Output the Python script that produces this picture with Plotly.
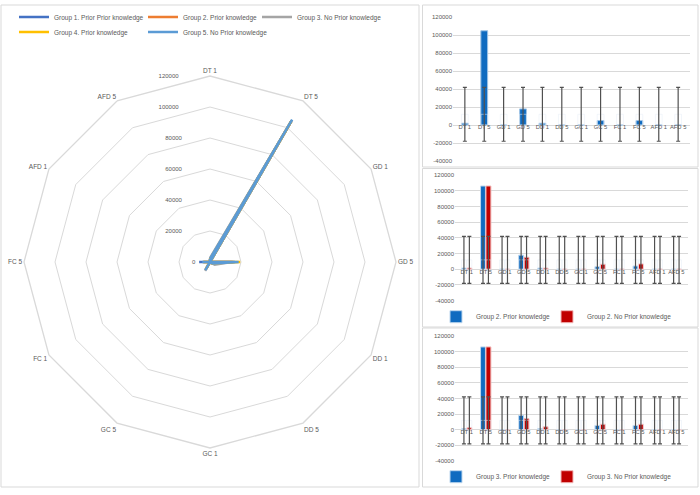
import plotly.graph_objects as go

categories = ["DT 1", "DT 5", "GD 1", "GD 5", "DD 1", "DD 5", "GC 1", "GC 5", "FC 1", "FC 5", "AFD 1", "AFD 5"]

# Radar series
radar_names = ["Group 1. Prior Prior knowledge", "Group 2. Prior knowledge", "Group 3. No Prior knowledge",
               "Group 4. Prior knowledge", "Group 5. No Prior knowledge"]
radar_group1 = [1500, 105000, 0, 16000, 1500, 0, 0, 4000, 0, 7000, 0, 0]
radar_group2 = [1500, 105000, 0, 15000, 1500, 0, 0, 5500, 0, 4000, 0, 0]
radar_group3 = [2500, 105000, 0, 14000, 3500, 0, 0, 6500, 0, 4500, 0, 0]
radar_group4 = [1500, 105000, 0, 19500, 1500, 0, 0, 5000, 0, 4500, 0, 0]
radar_group5 = [2000, 106000, 0, 18500, 2000, 0, 0, 6000, 0, 5000, 0, 0]
radar_colors = ["#4472C4", "#ED7D31", "#A5A5A5", "#FFC000", "#5B9BD5"]

# Bar chart 1 (top right)
bar1_values = [2000, 105000, 0, 18000, 2000, 0, 0, 5000, 0, 5000, 0, 0]
# Bar chart 2 (middle right)
bar2_prior = [1500, 106000, 0, 18000, 1500, 0, 0, 3300, 0, 4200, 0, 0]
bar2_noprior = [1500, 106000, 0, 15300, 1500, 0, 0, 6400, 0, 6800, 0, 0]
# Bar chart 3 (bottom right)
bar3_prior = [1500, 106000, 0, 18300, 1500, 0, 0, 5500, 0, 5500, 0, 0]
bar3_noprior = [2500, 106000, 0, 14100, 3800, 0, 0, 7000, 0, 7000, 0, 0]

# Error bar extents (same for all bars)
err_high = [42000] * 12
err_low = [-18000] * 12

radial_ticks = [0, 20000, 40000, 60000, 80000, 100000, 120000]
bar_ticks = [-40000, -20000, 0, 20000, 40000, 60000, 80000, 100000, 120000]
bar_ticktext = ["-40000", "-20000", "0", "20000", "40000", "60000", "80000", "100000", "120000"]

FONT = "Liberation Sans, Arial, sans-serif"
TXT = "#595959"
GRID = "#D9D9D9"

W, H = 700, 495

fig = go.Figure()

# legend placement (pixels: left x of legend box, row centre y)
radar_legend_ids = ["legend", "legend4", "legend5", "legend6", "legend7"]
radar_legend_pos = [(14, 17), (143, 17), (257, 17), (14, 32), (143, 32)]

# ---- Radar ----
radar_series = [radar_group1, radar_group2, radar_group3, radar_group4, radar_group5]
for name, vals, col, lid in zip(radar_names, radar_series, radar_colors, radar_legend_ids):
    fig.add_trace(go.Scatterpolar(
        r=vals + vals[:1], theta=categories + categories[:1], mode="lines",
        name=name, line=dict(color=col, width=2.6), legend=lid, subplot="polar"))

# ---- Bars ----
err_mid = [(h + l) / 2 for h, l in zip(err_high, err_low)]
err_half = [(h - l) / 2 for h, l in zip(err_high, err_low)]


def add_bar_set(xa, ya, values, color, line_col, name, group, legend, showlegend, width=None):
    fig.add_trace(go.Bar(x=categories, y=values, name=name, marker=dict(color=color, line=dict(color=line_col, width=1)),
                         offsetgroup=group, xaxis=xa, yaxis=ya, legend=legend, showlegend=showlegend, width=width))
    fig.add_trace(go.Bar(x=categories, y=err_mid, marker=dict(color="rgba(0,0,0,0)"),
                         error_y=dict(type="data", array=err_half, symmetric=True, color="#505050", thickness=1.2, width=2),
                         offsetgroup=group, xaxis=xa, yaxis=ya, showlegend=False, hoverinfo="skip", width=width))


add_bar_set("x", "y", bar1_values, "#0F6BC0", "#9DC3E6", "Group 1", "a", "legend2", False, width=0.35)
add_bar_set("x2", "y2", bar2_prior, "#0F6BC0", "#BDD7EE", "Group 2. Prior knowledge", "b", "legend2", True)
add_bar_set("x2", "y2", bar2_noprior, "#C00000", "#F2B8B8", "Group 2. No Prior knowledge", "c", "legend8", True)
add_bar_set("x3", "y3", bar3_prior, "#0F6BC0", "#BDD7EE", "Group 3. Prior knowledge", "b", "legend3", True)
add_bar_set("x3", "y3", bar3_noprior, "#C00000", "#F2B8B8", "Group 3. No Prior knowledge", "c", "legend9", True)

# category labels next to the zero line
for xa, ya in [("x", "y"), ("x2", "y2"), ("x3", "y3")]:
    fig.add_trace(go.Scatter(x=categories, y=[0] * len(categories), mode="text", text=categories,
                             textposition="bottom center", textfont=dict(size=5.8, color=TXT, family=FONT),
                             xaxis=xa, yaxis=ya, showlegend=False, hoverinfo="skip"))


def px_dom_x(a, b):
    return [a / W, b / W]


def px_dom_y(top, bottom):
    return [(H - bottom) / H, (H - top) / H]


yax_common = dict(range=[-40000, 120000], tickvals=bar_ticks, ticktext=bar_ticktext, showgrid=True,
                  gridcolor=GRID, gridwidth=1.3, zeroline=False, showline=False, ticks="",
                  tickfont=dict(size=6, color=TXT, family=FONT), fixedrange=True)
xax_common = dict(showticklabels=False, showgrid=False, zeroline=False, showline=False, ticks="",
                  type="category")

# polar domain (pixels)
pcx, pcy, prad = 210, 262, 186

leg_font = dict(size=6.5, color=TXT, family=FONT)
NB = "\u00a0"
radial_text = [str(v) + NB * (2 * len(str(v)) + 6) for v in radial_ticks]


def leg(xpx, ypx):
    return dict(orientation="h", x=xpx / W, y=(H - ypx) / H, xanchor="left", yanchor="middle",
                itemwidth=30, bgcolor="rgba(0,0,0,0)", font=leg_font)


layout_legends = {}
for lid, (lx, ly) in zip(radar_legend_ids, radar_legend_pos):
    layout_legends[lid] = leg(lx, ly)
layout_legends["legend2"] = leg(436, 316.7)
layout_legends["legend8"] = leg(547, 316.7)
layout_legends["legend3"] = leg(436, 476.7)
layout_legends["legend9"] = leg(547, 476.7)

fig.update_layout(
    width=W, height=H, margin=dict(l=0, r=0, t=0, b=0, autoexpand=False),
    paper_bgcolor="white", plot_bgcolor="white",
    font=dict(family=FONT, size=6.5, color=TXT),
    barmode="group", bargap=0.43, bargroupgap=0.1,
    polar=dict(
        domain=dict(x=px_dom_x(pcx - prad, pcx + prad), y=px_dom_y(pcy - prad, pcy + prad)),
        bgcolor="white", gridshape="linear",
        radialaxis=dict(range=[0, 120000], tickvals=radial_ticks, ticktext=radial_text,
                        angle=90, tickangle=90, side="counterclockwise", showline=False, ticks="",
                        gridcolor=GRID, gridwidth=1.3, tickfont=dict(size=6, color=TXT, family=FONT)),
        angularaxis=dict(direction="clockwise", rotation=90, showgrid=False, showline=True,
                         linecolor=GRID, linewidth=1.3, ticks="",
                         tickfont=dict(size=6.5, color=TXT, family=FONT)),
    ),
    xaxis=dict(domain=px_dom_x(453, 690), anchor="y", **xax_common),
    yaxis=dict(domain=px_dom_y(17.3, 161), anchor="x", **yax_common),
    xaxis2=dict(domain=px_dom_x(455, 688), anchor="y2", **xax_common),
    yaxis2=dict(domain=px_dom_y(175, 300.7), anchor="x2", **yax_common),
    xaxis3=dict(domain=px_dom_x(455, 688), anchor="y3", **xax_common),
    yaxis3=dict(domain=px_dom_y(336, 461), anchor="x3", **yax_common),
    shapes=[
        dict(type="rect", xref="paper", yref="paper", x0=1 / W, x1=419 / W, y0=(H - 487) / H, y1=(H - 5) / H,
             line=dict(color=GRID, width=1)),
        dict(type="rect", xref="paper", yref="paper", x0=422.5 / W, x1=698 / W, y0=(H - 167) / H, y1=(H - 5) / H,
             line=dict(color=GRID, width=1)),
        dict(type="rect", xref="paper", yref="paper", x0=422.5 / W, x1=698 / W, y0=(H - 327) / H, y1=(H - 168.5) / H,
             line=dict(color=GRID, width=1)),
        dict(type="rect", xref="paper", yref="paper", x0=422.5 / W, x1=698 / W, y0=(H - 487) / H, y1=(H - 328) / H,
             line=dict(color=GRID, width=1)),
    ],
    **layout_legends,
)

fig.write_html("out.html", config={"displayModeBar": False},
               post_script="document.body.style.margin='0';")
